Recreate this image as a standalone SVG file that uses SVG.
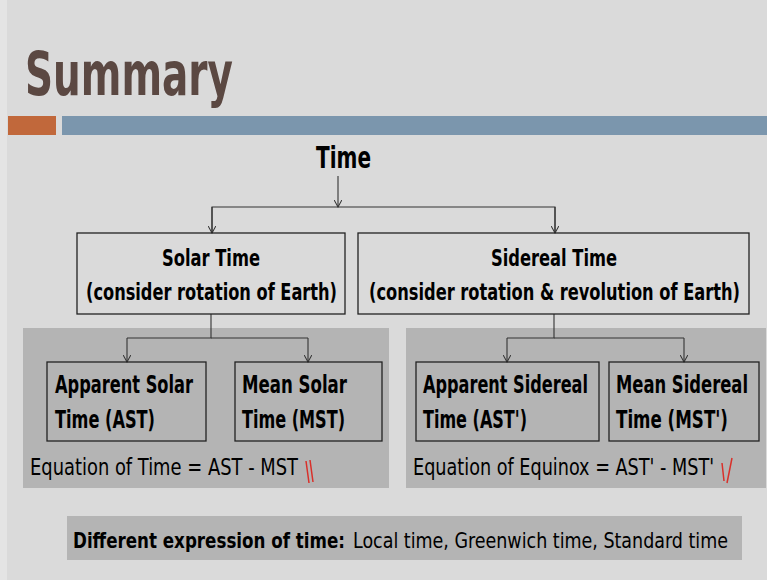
<svg xmlns="http://www.w3.org/2000/svg" width="767" height="580" viewBox="0 0 767 580">
<style>
text{font-family:"Liberation Sans Narrow","DejaVu Sans Condensed","Liberation Sans",sans-serif;fill:#000}
.b{font-weight:bold}
.box{fill:none;stroke:#222;stroke-width:1.3}
.panel{fill:#b4b4b4}
.con{fill:none;stroke:#333;stroke-width:1.1}
.red{stroke:#d9302a;stroke-width:1.5;fill:none}
</style>
<defs>
<marker id="ah" viewBox="0 0 10 10" refX="9" refY="5" markerWidth="8" markerHeight="8" orient="auto" markerUnits="userSpaceOnUse">
<path d="M0,0 L9,5 L0,10" fill="none" stroke="#333" stroke-width="1.3"/>
</marker>
</defs>
<rect x="0" y="0" width="767" height="580" fill="#dadada"/>
<rect x="0" y="0" width="7" height="580" fill="#e4e4e4"/>
<text x="25" y="95" class="b" font-size="60" style="fill:#5b4842" textLength="208" lengthAdjust="spacingAndGlyphs">Summary</text>
<rect x="8" y="116" width="48" height="19" fill="#c1683b"/>
<rect x="62" y="116" width="705" height="19" fill="#7b96ad"/>
<rect class="panel" x="23" y="328" width="366" height="160"/>
<rect class="panel" x="406" y="328" width="360" height="160"/>
<rect class="panel" x="67" y="516" width="675" height="44"/>
<g id="time"><text x="316" y="168" class="b" font-size="30" textLength="55" lengthAdjust="spacingAndGlyphs">Time</text></g>
<g id="connectors">
<line class="con" x1="338" y1="176" x2="338" y2="207" marker-end="url(#ah)"/>
<polyline class="con" points="212,233 212,207 555,207 555,233"/>
<line class="con" x1="212" y1="207" x2="212" y2="233" marker-end="url(#ah)"/>
<line class="con" x1="555" y1="207" x2="555" y2="233" marker-end="url(#ah)"/>
<polyline class="con" points="127,338 211,338 211,314"/>
<polyline class="con" points="211,338 308,338"/>
<line class="con" x1="127" y1="338" x2="127" y2="362" marker-end="url(#ah)"/>
<line class="con" x1="308" y1="338" x2="308" y2="362" marker-end="url(#ah)"/>
<polyline class="con" points="507,338 554,338 554,314"/>
<polyline class="con" points="554,338 684,338"/>
<line class="con" x1="507" y1="338" x2="507" y2="362" marker-end="url(#ah)"/>
<line class="con" x1="684" y1="338" x2="684" y2="362" marker-end="url(#ah)"/>
</g>
<g id="solar">
<rect class="box" x="77" y="233" width="268" height="81"/>
<text x="162" y="266" class="b" font-size="23" textLength="98" lengthAdjust="spacingAndGlyphs">Solar Time</text>
<text x="86" y="300" class="b" font-size="23" textLength="251" lengthAdjust="spacingAndGlyphs">(consider rotation of Earth)</text>
</g>
<g id="sidereal">
<rect class="box" x="358" y="233" width="391" height="81"/>
<text x="491" y="266" class="b" font-size="23" textLength="126" lengthAdjust="spacingAndGlyphs">Sidereal Time</text>
<text x="369" y="300" class="b" font-size="23" textLength="371" lengthAdjust="spacingAndGlyphs">(consider rotation &amp; revolution of Earth)</text>
</g>
<g id="ast">
<rect class="box" x="47" y="362" width="159" height="79"/>
<text x="55" y="393" class="b" font-size="24" textLength="138" lengthAdjust="spacingAndGlyphs">Apparent Solar</text>
<text x="55" y="428" class="b" font-size="24" textLength="100" lengthAdjust="spacingAndGlyphs">Time (AST)</text>
</g>
<g id="mst">
<rect class="box" x="235" y="362" width="147" height="79"/>
<text x="242" y="393" class="b" font-size="24" textLength="105" lengthAdjust="spacingAndGlyphs">Mean Solar</text>
<text x="242" y="428" class="b" font-size="24" textLength="103" lengthAdjust="spacingAndGlyphs">Time (MST)</text>
</g>
<g id="ast2">
<rect class="box" x="416" y="362" width="183" height="79"/>
<text x="423" y="393" class="b" font-size="24" textLength="165" lengthAdjust="spacingAndGlyphs">Apparent Sidereal</text>
<text x="423" y="428" class="b" font-size="24" textLength="104" lengthAdjust="spacingAndGlyphs">Time (AST')</text>
</g>
<g id="mst2">
<rect class="box" x="609" y="362" width="150" height="79"/>
<text x="616" y="393" class="b" font-size="24" textLength="132" lengthAdjust="spacingAndGlyphs">Mean Sidereal</text>
<text x="616" y="428" class="b" font-size="24" textLength="112" lengthAdjust="spacingAndGlyphs">Time (MST')</text>
</g>
<text x="30" y="475" font-size="23" textLength="268" lengthAdjust="spacingAndGlyphs">Equation of Time = AST - MST</text>
<text x="413" y="475" font-size="23" textLength="301" lengthAdjust="spacingAndGlyphs">Equation of Equinox = AST' - MST'</text>
<path class="red" d="M306,461 L309,483 M310,460 L313,482"/>
<path class="red" d="M722,463 L724,481 M732,458 L727,483"/>
<text x="73" y="548" class="b" font-size="22" textLength="272" lengthAdjust="spacingAndGlyphs">Different expression of time:</text>
<text x="353" y="548" font-size="22" textLength="375" lengthAdjust="spacingAndGlyphs">Local time, Greenwich time, Standard time</text>
</svg>
